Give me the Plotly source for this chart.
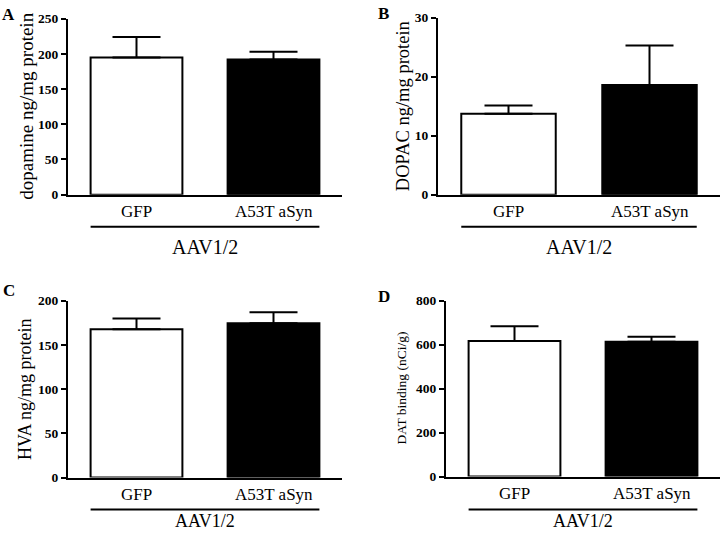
import plotly.graph_objects as go

categories = ["GFP", "A53T aSyn"]
group_label = "AAV1/2"
panel_letters = ["A", "B", "C", "D"]
y_titles = ["dopamine ng/mg protein", "DOPAC ng/mg protein",
            "HVA ng/mg protein", "DAT binding (nCi/g)"]
dopamine_mean = [195, 192]
dopamine_sem = [29, 11]
dopac_mean = [13.7, 18.6]
dopac_sem = [1.4, 6.7]
hva_mean = [167.5, 174.5]
hva_sem = [12.3, 12.2]
dat_mean = [616, 613]
dat_sem = [67, 23]
y_max = [250, 30, 200, 800]
y_dtick = [50, 10, 50, 200]

means = [dopamine_mean, dopac_mean, hva_mean, dat_mean]
sems = [dopamine_sem, dopac_sem, hva_sem, dat_sem]

W, H = 720, 539
def xp(px):
    return px / W
def yp(py):
    return 1 - py / H

# layout geometry (pixels)
panels = [
    dict(x=(68, 342), y=(12, 193), letter=(8, 8), ytx=27, ytf=19, cat=210, bracket=226, grp=247, grpf=20),
    dict(x=(438, 720), y=(11, 193), letter=(383, 7), ytx=403, ytf=18.5, cat=210, bracket=226, grp=247, grpf=20),
    dict(x=(68, 342), y=(302, 484), letter=(9, 292), ytx=25, ytf=18, cat=501, bracket=517, grp=529, grpf=18),
    dict(x=(446, 720), y=(302, 483), letter=(384, 298), ytx=402, ytf=13.5, cat=500, bracket=517, grp=529, grpf=18),
]

bar_w = 0.67
serif = "Liberation Serif"
fig = go.Figure()
layout = dict(width=W, height=H, margin=dict(l=0, r=0, t=0, b=0),
              paper_bgcolor="white", plot_bgcolor="white", showlegend=False,
              font=dict(family=serif, color="black"))
annotations = []
shapes = []
xs = list(range(len(categories)))
for i, p in enumerate(panels):
    n = "" if i == 0 else str(i + 1)
    fig.add_trace(go.Bar(
        x=xs, y=means[i], width=bar_w,
        marker=dict(color=["white", "black"], line=dict(color="black", width=2)),
        error_y=dict(type="data", symmetric=False, array=sems[i], arrayminus=[0, 0],
                     color="black", thickness=2, width=24),
        xaxis="x" + n, yaxis="y" + n, hoverinfo="skip"))
    layout["xaxis" + n] = dict(
        domain=[xp(p["x"][0]), xp(p["x"][1])], range=[-0.5, 1.5],
        anchor="y" + n, showticklabels=False, ticks="",
        showline=True, linecolor="black", linewidth=2,
        showgrid=False, zeroline=False, fixedrange=True)
    layout["yaxis" + n] = dict(
        domain=[yp(p["y"][1]), yp(p["y"][0])], range=[0, y_max[i]],
        anchor="x" + n, dtick=y_dtick[i], tick0=0,
        showline=True, linecolor="black", linewidth=2, ticks="outside",
        ticklen=5, tickwidth=2, tickcolor="black", showgrid=False, zeroline=False,
        tickfont=dict(family=serif, size=13.5, color="black", weight="bold"),
        fixedrange=True)
    for j, c in enumerate(categories):
        annotations.append(dict(text=c, xref="x" + n, yref="paper",
                                x=xs[j], y=yp(p["cat"]), xanchor="center",
                                yanchor="middle", showarrow=False,
                                font=dict(family=serif, size=17, color="black")))
    shapes.append(dict(type="line", xref="x" + n, yref="paper",
                       x0=xs[0] - bar_w / 2, x1=xs[-1] + bar_w / 2,
                       y0=yp(p["bracket"]), y1=yp(p["bracket"]),
                       line=dict(color="black", width=2)))
    annotations.append(dict(text=group_label, xref="x" + n, yref="paper",
                            x=(xs[0] + xs[-1]) / 2, y=yp(p["grp"]),
                            xanchor="center", yanchor="middle", showarrow=False,
                            font=dict(family=serif, size=p["grpf"], color="black")))
    annotations.append(dict(text="<b>" + panel_letters[i] + "</b>", xref="paper", yref="paper",
                            x=xp(p["letter"][0]), y=yp(p["letter"][1]),
                            xanchor="center", yanchor="middle", showarrow=False,
                            font=dict(family=serif, size=17, color="black")))
    annotations.append(dict(text=y_titles[i], xref="paper", yref="paper",
                            x=xp(p["ytx"]), y=yp((p["y"][0] + p["y"][1]) / 2),
                            textangle=-90, xanchor="center", yanchor="middle",
                            showarrow=False,
                            font=dict(family=serif, size=p["ytf"], color="black")))

layout["shapes"] = shapes
layout["annotations"] = annotations
fig.update_layout(**layout)
fig.write_html("out.html", config={"displayModeBar": False},
               post_script="document.body.style.margin='0';document.body.style.overflow='hidden';")
